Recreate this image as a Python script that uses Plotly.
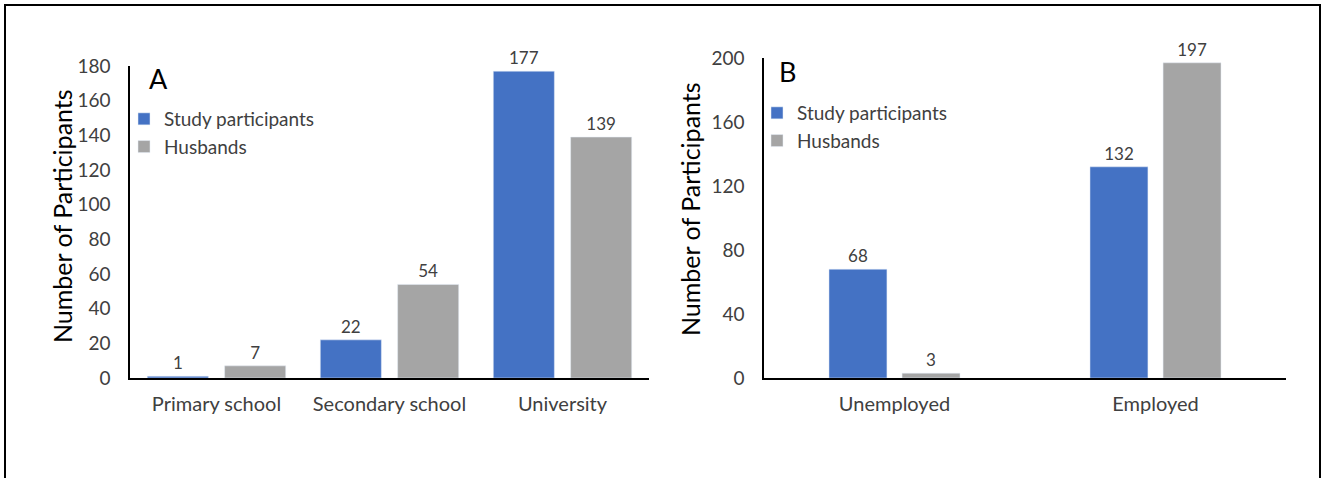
import plotly.graph_objects as go

# Panel A data
edu_categories = ["Primary school", "Secondary school", "University"]
edu_participants = [1, 22, 177]
edu_husbands = [7, 54, 139]

# Panel B data
emp_categories = ["Unemployed", "Employed"]
emp_participants = [68, 132]
emp_husbands = [3, 197]

series_names = ["Study participants", "Husbands"]
y_title = "Number of Participants"

W, H = 1321, 478
BLUE = "#4472C4"
GREY = "#A5A5A5"
TXT = "#404040"
FONT = "Lato"

def px_x(p):
    return p / W

def px_y(p):
    return 1 - p / H

fig = go.Figure()

val_font = dict(size=17, color=TXT, family=FONT)

# Panel A
fig.add_trace(go.Bar(x=edu_categories, y=edu_participants, name=series_names[0],
                     marker_color=BLUE, width=0.353, offset=-0.40,
                     text=edu_participants, textposition="outside", cliponaxis=False,
                     textfont=val_font, xaxis="x", yaxis="y", legend="legend"))
fig.add_trace(go.Bar(x=edu_categories, y=edu_husbands, name=series_names[1],
                     marker_color=GREY, width=0.353, offset=0.047,
                     text=edu_husbands, textposition="outside", cliponaxis=False,
                     textfont=val_font, xaxis="x", yaxis="y", legend="legend"))

# Panel B
fig.add_trace(go.Bar(x=emp_categories, y=emp_participants, name=series_names[0],
                     marker_color=BLUE, width=0.222, offset=-0.251,
                     text=emp_participants, textposition="outside", cliponaxis=False,
                     textfont=val_font, xaxis="x2", yaxis="y2", legend="legend2"))
fig.add_trace(go.Bar(x=emp_categories, y=emp_husbands, name=series_names[1],
                     marker_color=GREY, width=0.222, offset=0.029,
                     text=emp_husbands, textposition="outside", cliponaxis=False,
                     textfont=val_font, xaxis="x2", yaxis="y2", legend="legend2"))

y_axis_common = dict(showgrid=False, zeroline=False, showline=True, linecolor="black",
                     linewidth=1.5, ticks="", automargin=False,
                     tickfont=dict(size=19, color=TXT, family=FONT))
x_axis_common = dict(showgrid=False, zeroline=False, showline=True, linecolor="black",
                     linewidth=1.5, ticks="", automargin=False, ticklabelstandoff=7,
                     tickfont=dict(size=20, color=TXT, family=FONT))

legend_common = dict(font=dict(size=19, color=TXT, family=FONT), bgcolor="rgba(0,0,0,0)",
                     xanchor="left", yanchor="top", tracegroupgap=0, itemwidth=30)

fig.update_layout(
    width=W, height=H,
    margin=dict(l=0, r=0, t=0, b=0, autoexpand=False),
    paper_bgcolor="white", plot_bgcolor="white",
    barmode="overlay",
    font=dict(family=FONT, color=TXT),
    xaxis=dict(domain=[px_x(130), px_x(649)], anchor="y", **x_axis_common),
    yaxis=dict(domain=[px_y(378), px_y(66)], anchor="x", range=[0, 180], dtick=20,
               ticklabelstandoff=14, **y_axis_common),
    xaxis2=dict(domain=[px_x(764), px_x(1286)], anchor="y2", **x_axis_common),
    yaxis2=dict(domain=[px_y(378), px_y(58)], anchor="x2", range=[0, 200], dtick=40,
                ticklabelstandoff=14, **y_axis_common),
    legend=dict(x=px_x(124), y=px_y(100), **legend_common),
    legend2=dict(x=px_x(757), y=px_y(94), **legend_common),
    showlegend=True,
)

# y-axis titles
title_font = dict(size=25, color="black", family=FONT)
fig.add_annotation(text=y_title, xref="paper", yref="paper", x=px_x(62), y=px_y(216),
                   xanchor="center", yanchor="middle",
                   textangle=-90, showarrow=False, font=title_font)
fig.add_annotation(text=y_title, xref="paper", yref="paper", x=px_x(690), y=px_y(209),
                   xanchor="center", yanchor="middle",
                   textangle=-90, showarrow=False, font=title_font)

# Panel letters
letter_font = dict(size=27, color="black", family=FONT)
fig.add_annotation(text="A", xref="paper", yref="paper", x=px_x(158), y=px_y(78),
                   xanchor="center", yanchor="middle", showarrow=False, font=letter_font)
fig.add_annotation(text="B", xref="paper", yref="paper", x=px_x(787), y=px_y(72),
                   xanchor="center", yanchor="middle", showarrow=False, font=letter_font)

# Outer frame
fig.add_shape(type="rect", xref="paper", yref="paper",
              x0=px_x(5), x1=px_x(1320), y0=-0.1, y1=px_y(5),
              line=dict(color="black", width=2), fillcolor="rgba(0,0,0,0)")

fig.write_html("out.html",
               config={"displayModeBar": False},
               post_script="document.body.style.margin='0px';"
                           "document.body.style.overflow='hidden';")
